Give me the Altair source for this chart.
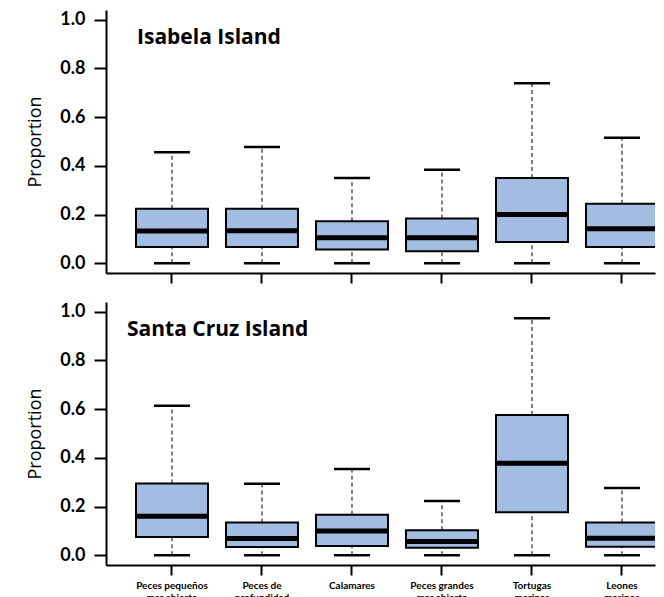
import altair as alt
import pandas as pd

categories = [
    "Peces pequeños\nmar abierto",
    "Peces de\nprofundidad",
    "Calamares",
    "Peces grandes\nmar abierto",
    "Tortugas\nmarinas",
    "Leones\nmarinos",
]
islands = ["Isabela Island", "Santa Cruz Island"]

isabela_min = [0.0, 0.0, 0.0, 0.0, 0.0, 0.0]
isabela_q1 = [0.067, 0.067, 0.057, 0.049, 0.087, 0.067]
isabela_med = [0.132, 0.133, 0.105, 0.105, 0.200, 0.142]
isabela_q3 = [0.224, 0.224, 0.173, 0.184, 0.350, 0.244]
isabela_max = [0.456, 0.477, 0.350, 0.384, 0.739, 0.515]

santacruz_min = [0.0, 0.0, 0.0, 0.0, 0.0, 0.0]
santacruz_q1 = [0.075, 0.034, 0.038, 0.031, 0.177, 0.035]
santacruz_med = [0.160, 0.069, 0.100, 0.057, 0.378, 0.070]
santacruz_q3 = [0.295, 0.135, 0.166, 0.103, 0.576, 0.135]
santacruz_max = [0.614, 0.294, 0.354, 0.223, 0.973, 0.276]

y_ticks = [0.0, 0.2, 0.4, 0.6, 0.8, 1.0]

BLUE = "#a2bce2"
FONT = "Lato"
TFONT = "Open Sans"


def make_df(mins, q1, med, q3, maxs):
    return pd.DataFrame({"cat": categories, "lo": mins, "q1": q1, "med": med, "q3": q3, "hi": maxs})


def panel(df, title_text, title_dx, show_labels):
    x_axis = alt.Axis(
        title=None, labels=show_labels, labelAngle=0, labelFont=FONT, labelFontWeight="bold",
        labelFontSize=10, labelLineHeight=12, labelPadding=5, labelColor="black",
        labelExpr="split(datum.label, '\\n')",
        tickSize=10, tickWidth=2, tickColor="black", domainWidth=2, domainColor="black",
    )
    y_axis = alt.Axis(
        title="Proportion", values=y_ticks, format=".1f", grid=False,
        labelFont=FONT, labelFontWeight="bold", labelFontSize=18, labelPadding=9, labelColor="black",
        titleFont=TFONT, titleFontWeight="normal", titleFontSize=18, titleColor="black", titlePadding=15,
        tickSize=12, tickWidth=2, tickColor="black", domainWidth=2, domainColor="black",
    )
    xs = alt.X("cat:N", sort=categories, axis=x_axis,
               scale=alt.Scale(paddingInner=0.3, paddingOuter=0.2, align=0.958))
    ys = alt.Scale(domain=[-0.04, 1.04], nice=False, zero=False)
    base = alt.Chart(df).encode(x=xs)
    whisk_hi = base.mark_rule(color="#555555", strokeWidth=1.5, strokeDash=[4, 3], opacity=1).encode(
        y=alt.Y("q3:Q", scale=ys, axis=y_axis), y2="hi:Q")
    whisk_lo = base.mark_rule(color="#555555", strokeWidth=1.5, strokeDash=[4, 3], opacity=1).encode(
        y=alt.Y("lo:Q", scale=ys), y2="q1:Q")
    box = base.mark_bar(fill=BLUE, stroke="black", strokeWidth=2, width=72, opacity=1, clip=True).encode(
        y=alt.Y("q1:Q", scale=ys), y2="q3:Q")
    med = base.mark_tick(color="black", thickness=5, size=72, opacity=1, clip=True).encode(
        y=alt.Y("med:Q", scale=ys))
    cap_hi = base.mark_tick(color="black", thickness=2.5, size=36, opacity=1).encode(y=alt.Y("hi:Q", scale=ys))
    cap_lo = base.mark_tick(color="black", thickness=2.5, size=36, opacity=1).encode(y=alt.Y("lo:Q", scale=ys))
    label = alt.Chart(pd.DataFrame({"cat": [categories[0]], "t": [title_text]})).mark_text(
        align="left", baseline="alphabetic", dx=title_dx, font=TFONT, fontWeight="bold",
        fontSize=21, color="black",
    ).encode(x=alt.X("cat:N", sort=categories), y=alt.datum(0.90), text="t:N")
    return alt.layer(whisk_hi, whisk_lo, box, med, cap_hi, cap_lo, label).properties(
        width=549, height=263,
    )


top = panel(make_df(isabela_min, isabela_q1, isabela_med, isabela_q3, isabela_max),
            islands[0], -35, False)
bottom = panel(make_df(santacruz_min, santacruz_q1, santacruz_med, santacruz_q3, santacruz_max),
               islands[1], -45, True)

chart = alt.vconcat(top, bottom, spacing=16).properties(
    padding={"left": 18, "top": 1, "right": 0, "bottom": 0}
).configure_view(stroke="transparent")

chart.save("out.html", embed_options={"renderer": "svg", "actions": False})
